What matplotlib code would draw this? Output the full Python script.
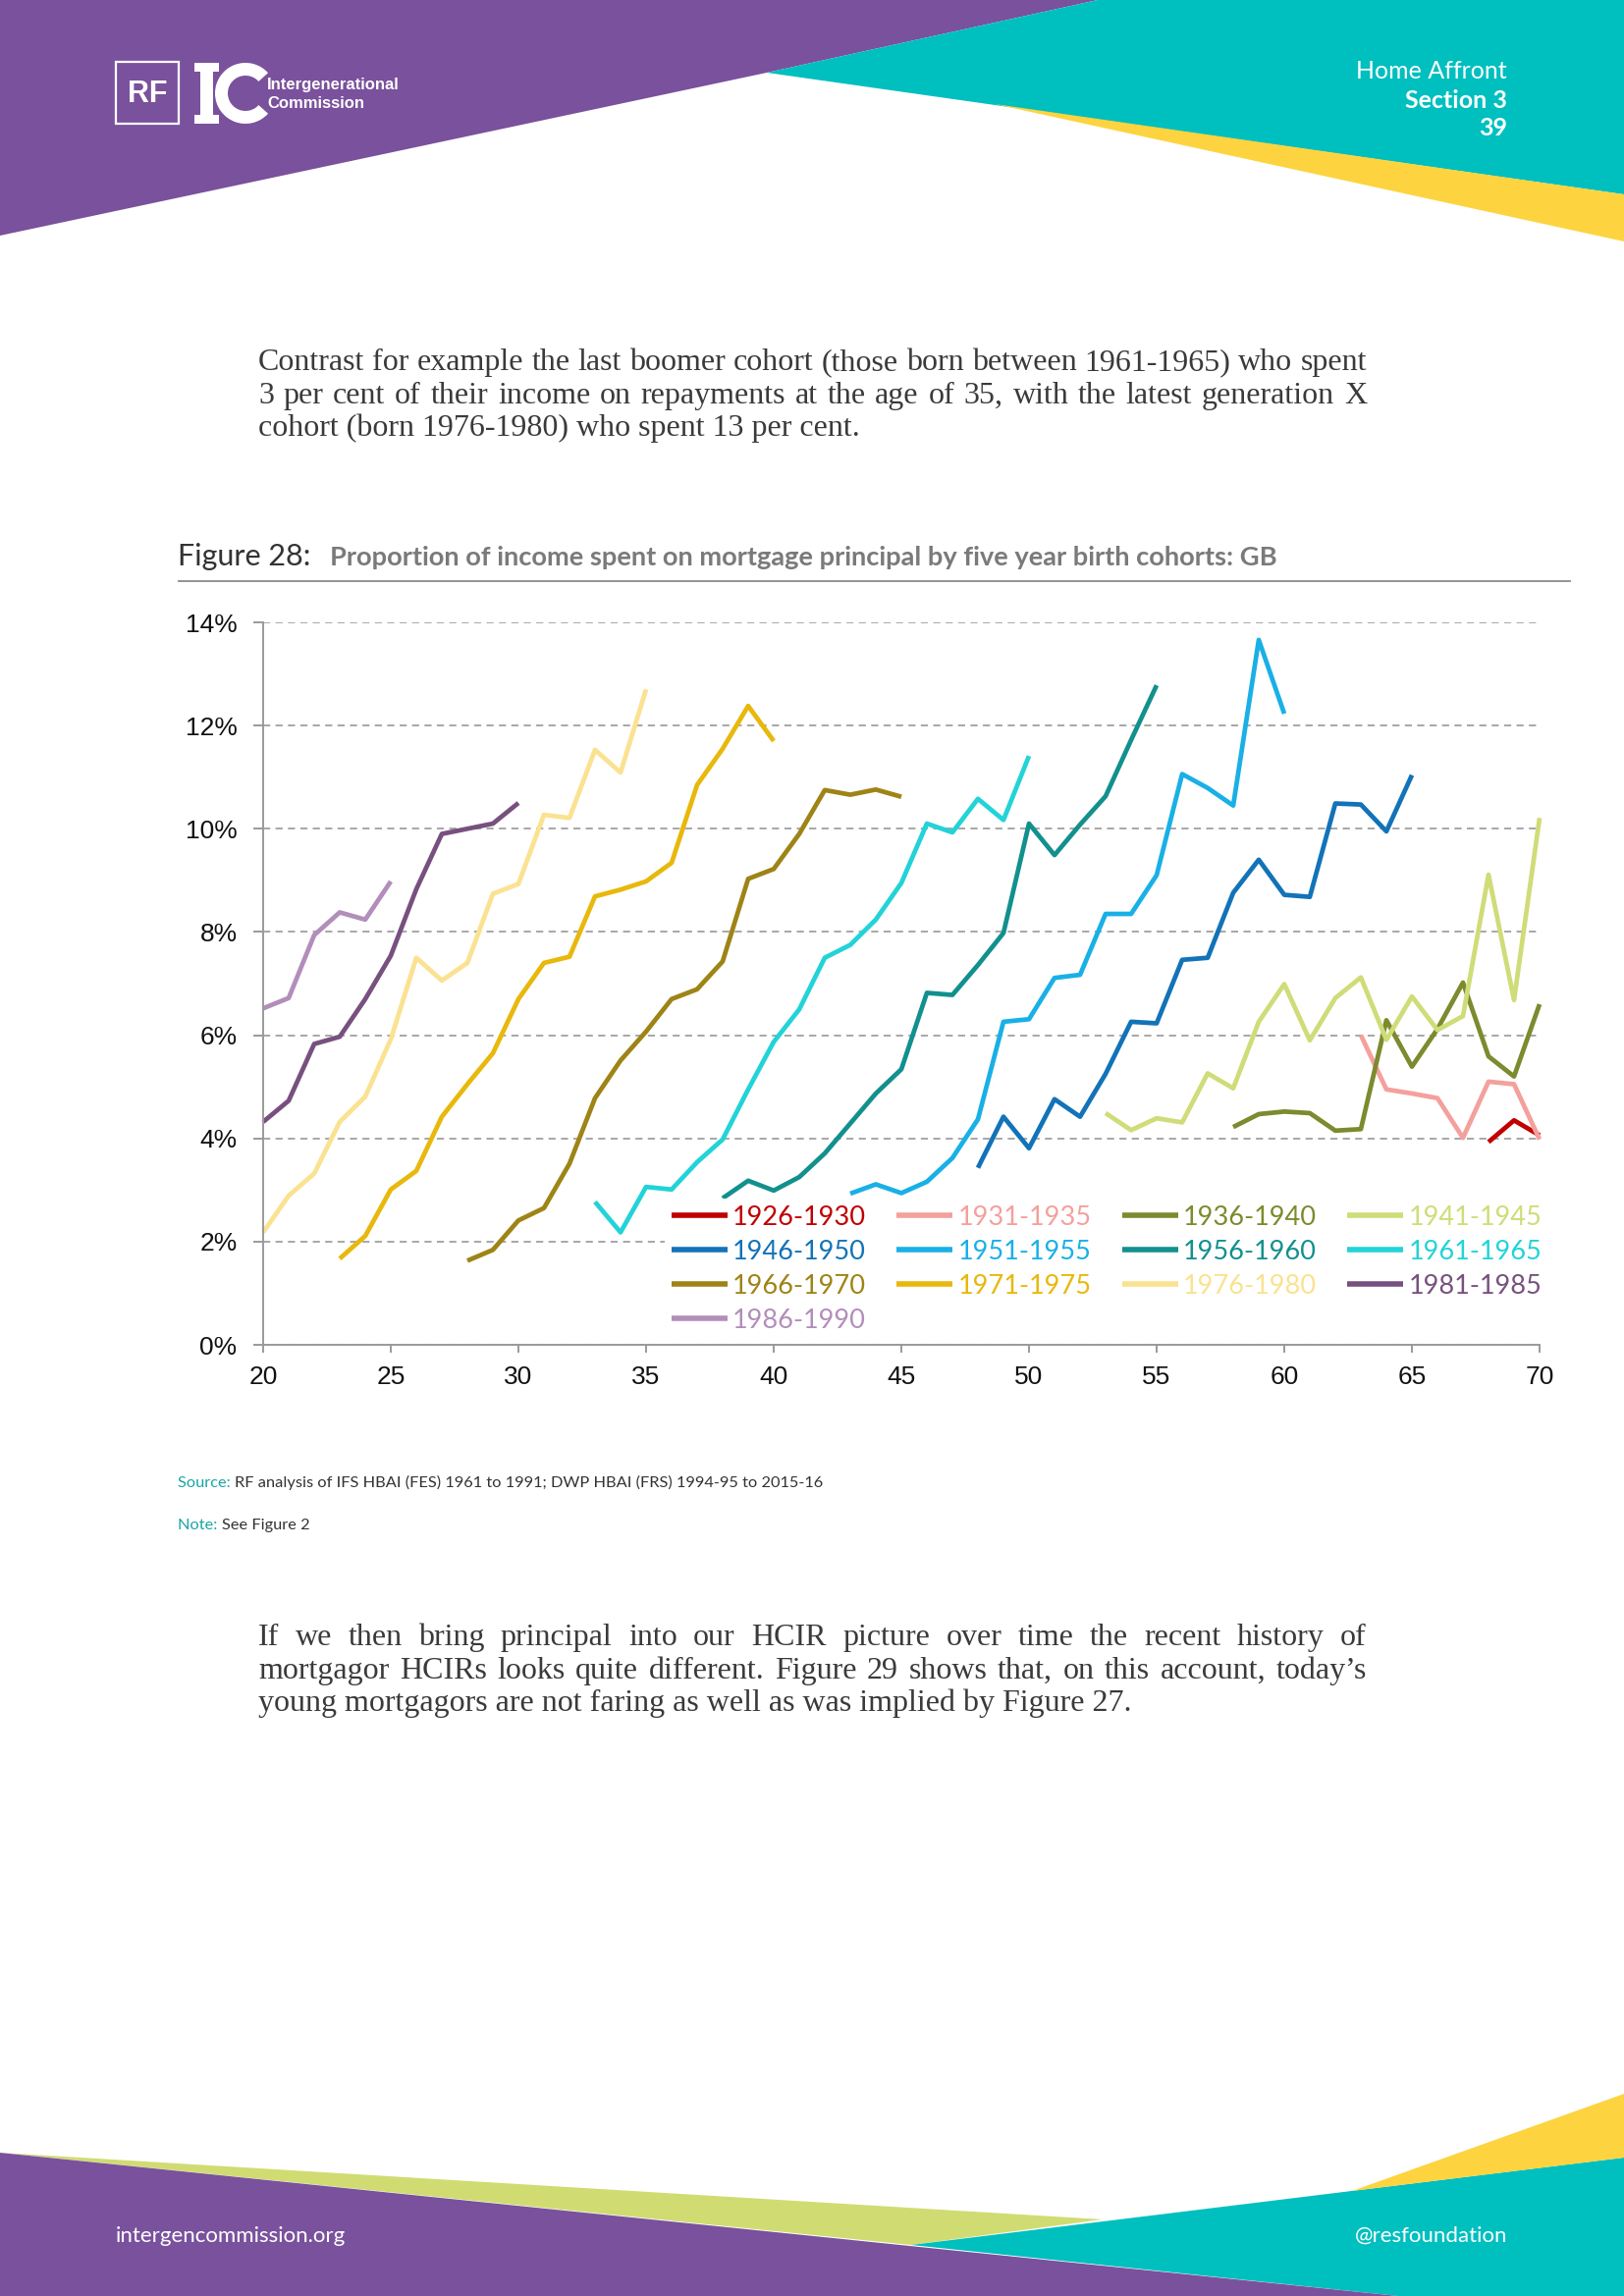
import matplotlib
matplotlib.use("Agg")
import matplotlib.pyplot as plt
from matplotlib.patches import Polygon, Rectangle, Wedge

# ---------------- data ----------------
cohorts = ["1926-1930", "1931-1935", "1936-1940", "1941-1945",
           "1946-1950", "1951-1955", "1956-1960", "1961-1965",
           "1966-1970", "1971-1975", "1976-1980", "1981-1985",
           "1986-1990"]
start_ages = [68, 63, 58, 53, 48, 43, 38, 33, 28, 23, 20, 20, 20]
v1926 = [3.93, 4.35, 4.06]
v1931 = [6.00, 4.95, 4.87, 4.78, 4.01, 5.10, 5.05, 3.98]
v1936 = [4.22, 4.47, 4.52, 4.49, 4.15, 4.18, 6.29, 5.39, 6.12, 7.02, 5.59, 5.20, 6.60]
v1941 = [4.49, 4.16, 4.39, 4.31, 5.26, 4.97, 6.26, 6.99, 5.90, 6.72, 7.12, 5.91,
         6.75, 6.10, 6.37, 9.11, 6.68, 10.21]
v1946 = [3.43, 4.42, 3.81, 4.76, 4.42, 5.25, 6.26, 6.23, 7.46, 7.50, 8.76, 9.40,
         8.72, 8.68, 10.49, 10.47, 9.95, 11.04]
v1951 = [2.93, 3.11, 2.94, 3.16, 3.62, 4.37, 6.26, 6.31, 7.11, 7.17, 8.35, 8.35,
         9.10, 11.06, 10.79, 10.45, 13.66, 12.23]
v1956 = [2.84, 3.18, 2.99, 3.25, 3.71, 4.29, 4.87, 5.34, 6.82, 6.78, 7.36, 7.98,
         10.10, 9.49, 10.08, 10.63, 11.72, 12.78]
v1961 = [2.77, 2.18, 3.06, 3.01, 3.54, 3.98, 4.95, 5.87, 6.50, 7.50, 7.75, 8.24,
         8.95, 10.10, 9.93, 10.58, 10.17, 11.41]
v1966 = [1.63, 1.84, 2.41, 2.65, 3.51, 4.78, 5.51, 6.07, 6.70, 6.89, 7.43, 9.03,
         9.22, 9.90, 10.75, 10.66, 10.76, 10.62]
v1971 = [1.67, 2.11, 3.01, 3.37, 4.42, 5.05, 5.65, 6.70, 7.40, 7.52, 8.69, 8.82,
         8.98, 9.34, 10.85, 11.55, 12.38, 11.70]
v1976 = [2.18, 2.89, 3.32, 4.32, 4.81, 5.92, 7.50, 7.06, 7.40, 8.74, 8.93, 10.27,
         10.21, 11.53, 11.09, 12.70]
v1981 = [4.32, 4.73, 5.83, 5.97, 6.70, 7.54, 8.83, 9.90, 10.00, 10.10, 10.50]
v1986 = [6.52, 6.72, 7.94, 8.38, 8.24, 8.98]
values = [v1926, v1931, v1936, v1941, v1946, v1951, v1956, v1961,
          v1966, v1971, v1976, v1981, v1986]
colors = ["#C00000", "#F4A09C", "#7D8A2E", "#D0DC78",
          "#1273B8", "#19B0E6", "#12908E", "#22D3D8",
          "#9E8416", "#E8B80C", "#FAE290", "#78507F",
          "#B28EBB"]
x_ticks = [20, 25, 30, 35, 40, 45, 50, 55, 60, 65, 70]
y_ticks = [0, 2, 4, 6, 8, 10, 12, 14]
y_labels = ["0%", "2%", "4%", "6%", "8%", "10%", "12%", "14%"]

para1 = ["Contrast for example the last boomer cohort (those born between 1961-1965) who spent",
         "3 per cent of their income on repayments at the age of 35, with the latest generation X",
         "cohort (born 1976-1980) who spent 13 per cent."]
para2 = ["If we then bring principal into our HCIR picture over time the recent history of",
         "mortgagor HCIRs looks quite different. Figure 29 shows that, on this account, today\u2019s",
         "young mortgagors are not faring as well as was implied by Figure 27."]

# ---------------- figure ----------------
W, H = 1654, 2339
fig = plt.figure(figsize=(W / 100, H / 100), dpi=100)
bg = fig.add_axes([0, 0, 1, 1])
bg.set_xlim(0, W)
bg.set_ylim(H, 0)
bg.axis("off")

PURPLE = "#7A519C"
TEAL = "#00BFBF"
YELLOW = "#FDD440"
GREEN = "#D0DC72"

# header shapes
bg.add_patch(Polygon([(0, 0), (1118, 0), (781, 74), (0, 240)], closed=True, color=PURPLE, lw=0))
bg.add_patch(Polygon([(781, 74), (1118, 0), (1654, 0), (1654, 198)], closed=True, color=TEAL, lw=0))
bg.add_patch(Polygon([(1013, 106), (1654, 198), (1654, 246)], closed=True, color=YELLOW, lw=0))
# footer shapes
bg.add_patch(Polygon([(0, 2193), (1123, 2261), (928, 2287)], closed=True, color=GREEN, lw=0))
bg.add_patch(Polygon([(928, 2287), (1654, 2198), (1654, 2339), (1424, 2339)], closed=True, color=TEAL, lw=0))
bg.add_patch(Polygon([(1377, 2232), (1654, 2133), (1654, 2198)], closed=True, color=YELLOW, lw=0))
bg.add_patch(Polygon([(0, 2193), (1424, 2339), (0, 2339)], closed=True, color=PURPLE, lw=0))

# logo
bg.add_patch(Rectangle((118, 63), 64, 63, fill=False, ec="white", lw=1.6))
bg.text(150, 96, "RF", color="white", fontsize=22, fontweight="bold",
        family=["Liberation Sans Narrow", "Liberation Sans"], ha="center", va="center")
bg.add_patch(Rectangle((198, 64), 25, 9, color="white", lw=0))
bg.add_patch(Rectangle((198, 117), 25, 9, color="white", lw=0))
bg.add_patch(Rectangle((204, 64), 13, 62, color="white", lw=0))
bg.add_patch(Wedge((250, 95), 31, 42, 318, width=13, color="white", lw=0))
bg.text(272, 86, "Intergenerational", color="white", fontsize=12, fontweight="bold",
        family=["Liberation Sans Narrow", "Liberation Sans"], ha="left", va="center")
bg.text(272, 106, "Commission", color="white", fontsize=12, fontweight="bold",
        family=["Liberation Sans Narrow", "Liberation Sans"], ha="left", va="center")

# header right text
bg.text(1535, 73, "Home Affront", color="white", fontsize=18, family="Lato",
        fontweight="normal", ha="right", va="center")
bg.text(1535, 102, "Section 3", color="white", fontsize=18, family="Lato",
        fontweight="bold", ha="right", va="center")
bg.text(1535, 131, "39", color="white", fontsize=18, family="Lato",
        fontweight="bold", ha="right", va="center")

# footer text
bg.text(118, 2278, "intergencommission.org", color="white", fontsize=16, family="Lato",
        ha="left", va="center")
bg.text(1535, 2278, "@resfoundation", color="white", fontsize=16, family="Lato",
        fontweight="normal", ha="right", va="center")

renderer = fig.canvas.get_renderer()

SERIF = ["Liberation Serif", "DejaVu Serif"]
X0, X1 = 263, 1392

# choose body size so the longest full line nearly fills the measure naturally
probe = bg.text(0, 0, para1[1], fontsize=20, family=SERIF)
pw = probe.get_window_extent(renderer).width
probe.remove()
BODY_SIZE = min(23.0, 20 * (X1 - X0 - 6) / pw)


def line_text(y, txt, justify):
    words = txt.split(" ")
    if not justify:
        bg.text(X0, y, txt, fontsize=BODY_SIZE, family=SERIF, color="#3a3a3a",
                ha="left", va="baseline")
        return
    arts = [bg.text(0, y, w, fontsize=BODY_SIZE, family=SERIF, color="#3a3a3a",
                    ha="left", va="baseline") for w in words]
    widths = [a.get_window_extent(renderer).width for a in arts]
    gap = (X1 - X0 - sum(widths)) / (len(words) - 1)
    x = X0
    for a, w in zip(arts, widths):
        a.set_x(x)
        x += w + gap


for i, (ln, y) in enumerate(zip(para1, [377, 411, 444])):
    line_text(y, ln, i < 2)
for i, (ln, y) in enumerate(zip(para2, [1676, 1710, 1743])):
    line_text(y, ln, i < 2)

# figure title
bg.text(181, 576, "Figure 28:", fontsize=22, family="Lato", fontweight="normal",
        color="#333333", ha="left", va="baseline")
bg.text(336, 576, "Proportion of income spent on mortgage principal by five year birth cohorts: GB",
        fontsize=19.6, family="Lato", fontweight="bold", color="#7a7a7a",
        ha="left", va="baseline")
bg.plot([182, 1599], [592, 592], color="#8a8a8a", lw=1.3)

# source / note
SRC = 11.8
s1 = bg.text(181, 1515, "Source: ", fontsize=SRC, family="Lato", color="#1BA5A5",
             ha="left", va="baseline")
w1 = s1.get_window_extent(renderer).width
bg.text(181 + w1, 1515, "RF analysis of IFS HBAI (FES) 1961 to 1991; DWP HBAI (FRS) 1994-95 to 2015-16",
        fontsize=SRC, family="Lato", color="#333333", ha="left", va="baseline")
s2 = bg.text(181, 1558, "Note: ", fontsize=SRC, family="Lato", color="#1BA5A5",
             ha="left", va="baseline")
w2 = s2.get_window_extent(renderer).width
bg.text(181 + w2, 1558, "See Figure 2", fontsize=SRC, family="Lato", color="#333333",
        ha="left", va="baseline")

# ---------------- chart ----------------
ax_l, ax_r, ax_t, ax_b = 268, 1568, 634, 1370
ax = fig.add_axes([ax_l / W, 1 - ax_b / H, (ax_r - ax_l) / W, (ax_b - ax_t) / H])
ax.set_facecolor("none")
handles = []
for name, a0, vals, col in zip(cohorts, start_ages, values, colors):
    ages = list(range(a0, a0 + len(vals)))
    ln, = ax.plot(ages, vals, color=col, lw=3.4, solid_capstyle="butt",
                  solid_joinstyle="round", clip_on=False, label=name)
    handles.append(ln)

ax.set_xlim(20, 70)
ax.set_ylim(0, 14)
ax.set_xticks(x_ticks)
ax.set_xticklabels([str(v) for v in x_ticks])
ax.set_yticks(y_ticks)
ax.set_yticklabels(y_labels)
for s in ["top", "right"]:
    ax.spines[s].set_visible(False)
for s in ["left", "bottom"]:
    ax.spines[s].set_color("#9a9a9a")
    ax.spines[s].set_linewidth(1.4)
ax.grid(axis="y", color="#a0a0a0", lw=1.3, linestyle=(0, (4, 3)))
ax.set_axisbelow(True)
ax.tick_params(axis="both", colors="#9a9a9a", width=1.4, labelcolor="#111111",
               labelsize=19)
ax.tick_params(axis="y", length=7, pad=12, direction="out")
ax.tick_params(axis="x", length=6, pad=9, direction="out")
for lab in ax.get_xticklabels() + ax.get_yticklabels():
    lab.set_family(["Liberation Sans", "DejaVu Sans"])

# legend: row-wise order in a 4-column layout, white box hides the gridline
order = [0, 4, 8, 12, 1, 5, 9, 2, 6, 10, 3, 7, 11]
leg = fig.legend([handles[i] for i in order], [cohorts[i] for i in order],
                 ncol=4, loc="upper left", bbox_to_anchor=(677 / W, 1 - 1221 / H),
                 frameon=True, facecolor="white", edgecolor="none", framealpha=1.0,
                 fancybox=False, borderpad=0.25, borderaxespad=0,
                 handlelength=2.1, handletextpad=0.2, columnspacing=1.15,
                 labelspacing=0.37, prop={"family": "Lato", "size": 19.5})
for txt, i in zip(leg.get_texts(), order):
    txt.set_color(colors[i])
for lh in leg.get_lines():
    lh.set_linewidth(4.0)

fig.savefig("out.png", dpi=100)
